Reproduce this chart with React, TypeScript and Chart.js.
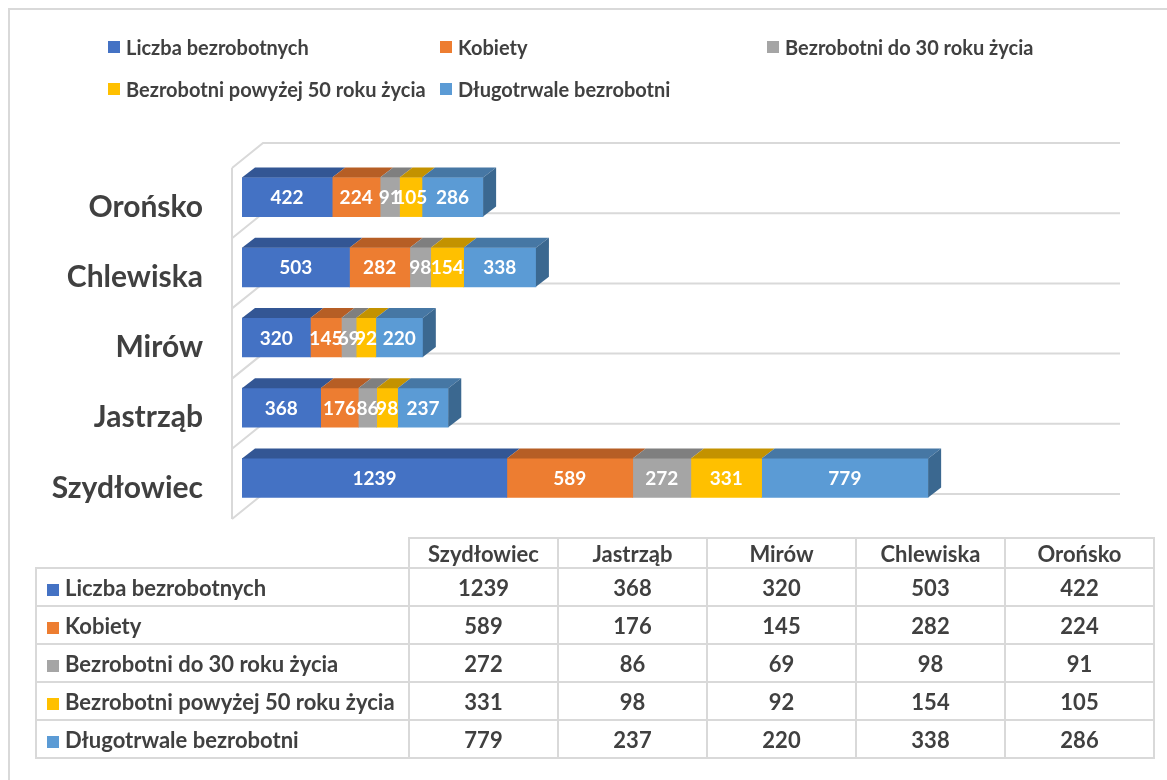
import React, { useEffect, useRef } from "react";
import { Chart, registerables } from "chart.js";

Chart.register(...registerables);

const categories = ["Szydłowiec", "Jastrząb", "Mirów", "Chlewiska", "Orońsko"];
const seriesNames = [
  "Liczba bezrobotnych",
  "Kobiety",
  "Bezrobotni do 30 roku życia",
  "Bezrobotni powyżej 50 roku życia",
  "Długotrwale bezrobotni",
];
const liczbaBezrobotnych = [1239, 368, 320, 503, 422];
const kobiety = [589, 176, 145, 282, 224];
const do30 = [272, 86, 69, 98, 91];
const powyzej50 = [331, 98, 92, 154, 105];
const dlugotrwale = [779, 237, 220, 338, 286];
const seriesValues = [liczbaBezrobotnych, kobiety, do30, powyzej50, dlugotrwale];
const xMax = 4000;

const frontColors = ["#4472C4", "#ED7D31", "#A5A5A5", "#FFC000", "#5B9BD5"];
const topColors = ["#335694", "#B65E25", "#7F7F7F", "#C39200", "#4677A4"];
const sideColors = ["#2B4A80", "#9C5020", "#6E6E6E", "#A87E00", "#3B6890"];

const TEXT = "#404040";
const GRID = "#d9d9d9";
const FONT = "Lato";
const DX = 13;
const DY = 10;
const CANVAS_H = 570;

const threeD = {
  id: "threeD",
  beforeDatasetsDraw(chart: any) {
    const { ctx, chartArea: ca } = chart;
    const n = categories.length;
    const band = (ca.bottom - ca.top) / n;
    ctx.save();
    ctx.strokeStyle = GRID;
    ctx.lineWidth = 2;
    const leftFront = ca.left - 10;
    const leftBack = ca.left + 21;
    const rightBack = ca.right + 23;
    for (let i = 0; i <= n; i++) {
      const b = ca.top + band * i;
      const frontY = b + 6;
      const backY = b - 19;
      ctx.beginPath();
      ctx.moveTo(leftFront, frontY);
      ctx.lineTo(leftBack, backY);
      ctx.lineTo(rightBack, backY);
      ctx.stroke();
    }
    ctx.beginPath();
    ctx.moveTo(leftFront, ca.top + 6);
    ctx.lineTo(leftFront, ca.bottom + 6);
    ctx.stroke();
    ctx.restore();
  },
  afterDatasetsDraw(chart: any) {
    const { ctx } = chart;
    const nd = chart.data.datasets.length;
    ctx.save();
    for (let j = 0; j < categories.length; j++) {
      for (let d = 0; d < nd; d++) {
        const el = chart.getDatasetMeta(d).data[j];
        const p = el.getProps(["x", "y", "base", "height"], true);
        const x0 = Math.min(p.base, p.x);
        const x1 = Math.max(p.base, p.x);
        const yt = p.y - p.height / 2;
        const yb = p.y + p.height / 2;
        ctx.fillStyle = topColors[d];
        ctx.beginPath();
        ctx.moveTo(x0, yt);
        ctx.lineTo(x1, yt);
        ctx.lineTo(x1 + DX, yt - DY);
        ctx.lineTo(x0 + DX, yt - DY);
        ctx.closePath();
        ctx.fill();
        if (d === nd - 1) {
          ctx.fillStyle = sideColors[d];
          ctx.beginPath();
          ctx.moveTo(x1, yt);
          ctx.lineTo(x1 + DX, yt - DY);
          ctx.lineTo(x1 + DX, yb - DY);
          ctx.lineTo(x1, yb);
          ctx.closePath();
          ctx.fill();
        }
      }
    }
    ctx.fillStyle = "#ffffff";
    ctx.font = `bold 19px ${FONT}`;
    ctx.textAlign = "center";
    ctx.textBaseline = "middle";
    for (let d = 0; d < nd; d++) {
      const meta = chart.getDatasetMeta(d);
      meta.data.forEach((el: any, j: number) => {
        const p = el.getProps(["x", "y", "base"], true);
        ctx.fillText(String(chart.data.datasets[d].data[j]), (p.base + p.x) / 2, p.y + 1);
      });
    }
    ctx.restore();
  },
};

function Legend() {
  const pos = [
    [108, 35],
    [440, 35],
    [767, 35],
    [108, 77],
    [440, 77],
  ];
  return (
    <>
      {seriesNames.map((name, i) => (
        <div
          key={name}
          style={{
            position: "absolute",
            left: pos[i][0],
            top: pos[i][1],
            height: 24,
            display: "flex",
            alignItems: "center",
            fontFamily: FONT,
            fontWeight: 700,
            fontSize: 20,
            color: TEXT,
            whiteSpace: "nowrap",
          }}
        >
          <span style={{ display: "inline-block", width: 12, height: 12, background: frontColors[i], marginRight: 6 }} />
          {name}
        </div>
      ))}
    </>
  );
}

function DataTable() {
  const cell: React.CSSProperties = {
    border: `2px solid ${GRID}`,
    textAlign: "center",
    padding: 0,
    overflow: "hidden",
  };
  return (
    <table
      style={{
        position: "absolute",
        left: 35,
        top: 537,
        width: 1118,
        borderCollapse: "collapse",
        tableLayout: "fixed",
        fontFamily: FONT,
        fontWeight: 700,
        fontSize: 22,
        color: TEXT,
      }}
    >
      <colgroup>
        <col style={{ width: 373 }} />
        {categories.map((c) => (
          <col key={c} style={{ width: 149 }} />
        ))}
      </colgroup>
      <tbody>
        <tr style={{ height: 30 }}>
          <td style={{ padding: 0, borderTop: "none", borderLeft: "none" }} />
          {categories.map((c) => (
            <td key={c} style={cell}>
              {c}
            </td>
          ))}
        </tr>
        {seriesNames.map((name, i) => (
          <tr key={name} style={{ height: 38 }}>
            <td style={{ ...cell, textAlign: "left", paddingLeft: 10, whiteSpace: "nowrap" }}>
              <span
                style={{
                  display: "inline-block",
                  width: 12,
                  height: 12,
                  background: frontColors[i],
                  marginRight: 6,
                }}
              />
              {name}
            </td>
            {seriesValues[i].map((v, j) => (
              <td key={j} style={cell}>
                {v}
              </td>
            ))}
          </tr>
        ))}
      </tbody>
    </table>
  );
}

export default function App() {
  const canvasRef = useRef<HTMLCanvasElement>(null);

  useEffect(() => {
    const canvas = canvasRef.current;
    if (!canvas) return;
    const chart = new Chart(canvas, {
      type: "bar",
      data: {
        labels: categories,
        datasets: seriesNames.map((name, i) => ({
          label: name,
          data: seriesValues[i],
          backgroundColor: frontColors[i],
          borderWidth: 0,
          barThickness: 39,
        })),
      },
      options: {
        indexAxis: "y",
        responsive: false,
        animation: false,
        devicePixelRatio: 1,
        layout: { padding: { left: 0, right: 70, top: 162, bottom: 18 } },
        plugins: {
          legend: { display: false },
          tooltip: { enabled: false },
          title: { display: false },
        },
        scales: {
          x: {
            stacked: true,
            min: 0,
            max: xMax,
            display: false,
          },
          y: {
            stacked: true,
            reverse: true,
            grid: { display: false, drawTicks: false },
            border: { display: false },
            ticks: {
              padding: 39,
              labelOffset: 10,
              color: TEXT,
              font: { family: FONT, size: 30, weight: "bold" },
            },
            afterFit: (scale: any) => {
              scale.width = 242;
            },
          },
        },
      },
      plugins: [threeD],
    } as any);
    return () => chart.destroy();
  }, []);

  return (
    <div
      style={{
        position: "fixed",
        left: 0,
        top: 0,
        width: 1167,
        height: 780,
        overflow: "hidden",
        background: "#ffffff",
      }}
    >
      <div
        style={{
          position: "absolute",
          left: 8,
          top: 8,
          width: 1300,
          height: 900,
          border: `2px solid ${GRID}`,
          boxSizing: "border-box",
        }}
      />
      <canvas
        ref={canvasRef}
        width={1167}
        height={CANVAS_H}
        style={{ position: "absolute", left: 0, top: 0, width: 1167, height: CANVAS_H }}
      />
      <Legend />
      <DataTable />
    </div>
  );
}
